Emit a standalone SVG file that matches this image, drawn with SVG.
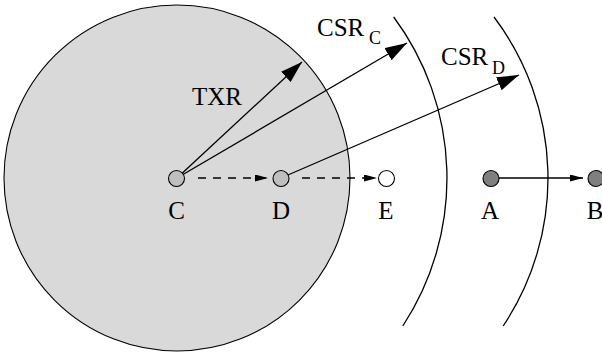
<svg xmlns="http://www.w3.org/2000/svg" width="602" height="352" viewBox="0 0 602 352">
<style>
text{font-family:"Liberation Serif","Times New Roman",serif;fill:#000}
.lbl{font-size:25px}
.sub{font-size:18px}
.c{text-anchor:middle}
.ln{stroke:#000;stroke-width:1.3;fill:none}
.dash{stroke-dasharray:8 7}
.node{stroke:#000;stroke-width:1.1}
</style>
<defs>
<marker id="big" markerUnits="userSpaceOnUse" markerWidth="24" markerHeight="16" refX="22" refY="7" orient="auto"><path d="M0,0 L22,7 L0,14 z" fill="#000"/></marker>
<marker id="small" markerUnits="userSpaceOnUse" markerWidth="16" markerHeight="10" refX="13" refY="3.5" orient="auto"><path d="M0,0 L13,3.5 L0,7 z" fill="#000"/></marker>
</defs>
<g id="range">
<circle cx="177" cy="178" r="173" fill="#d9d9d9" stroke="#000" stroke-width="1.1"/>
<path class="ln" d="M393.7,17 A270,270 0 0 1 402.8,326"/>
<path class="ln" d="M494,17 A267,267 0 0 1 503.2,326"/>
</g>
<g id="connectors">
<line class="ln" x1="177" y1="178" x2="302" y2="62" marker-end="url(#big)"/>
<line class="ln" x1="177" y1="178" x2="407" y2="43" marker-end="url(#big)"/>
<line class="ln" x1="281" y1="178" x2="519" y2="75" marker-end="url(#big)"/>
<line class="ln dash" x1="198" y1="178" x2="268" y2="178" marker-end="url(#small)"/>
<line class="ln dash" x1="302" y1="178" x2="377" y2="178" marker-end="url(#small)"/>
<line class="ln" x1="499" y1="178" x2="583" y2="178" marker-end="url(#small)"/>
</g>
<g id="node-C"><circle class="node" cx="176.5" cy="178.5" r="8" fill="#bfbfbf"/><text class="lbl c" x="176.5" y="219">C</text></g>
<g id="node-D"><circle class="node" cx="281" cy="178.5" r="8" fill="#bfbfbf"/><text class="lbl c" x="281" y="219">D</text></g>
<g id="node-E"><circle class="node" cx="386.5" cy="178.5" r="8" fill="#fff"/><text class="lbl c" x="386" y="219">E</text></g>
<g id="node-A"><circle class="node" cx="491" cy="178.5" r="8" fill="#7f7f7f"/><text class="lbl c" x="490" y="219">A</text></g>
<g id="node-B"><circle class="node" cx="596" cy="178.5" r="8" fill="#7f7f7f"/><text class="lbl c" x="595" y="219">B</text></g>
<g id="labels">
<text class="lbl" x="192" y="105">TXR</text>
<text class="lbl" x="317" y="36">CSR</text><text class="sub" x="369" y="44">C</text>
<text class="lbl" x="441" y="65">CSR</text><text class="sub" x="492" y="74">D</text>
</g>
</svg>
